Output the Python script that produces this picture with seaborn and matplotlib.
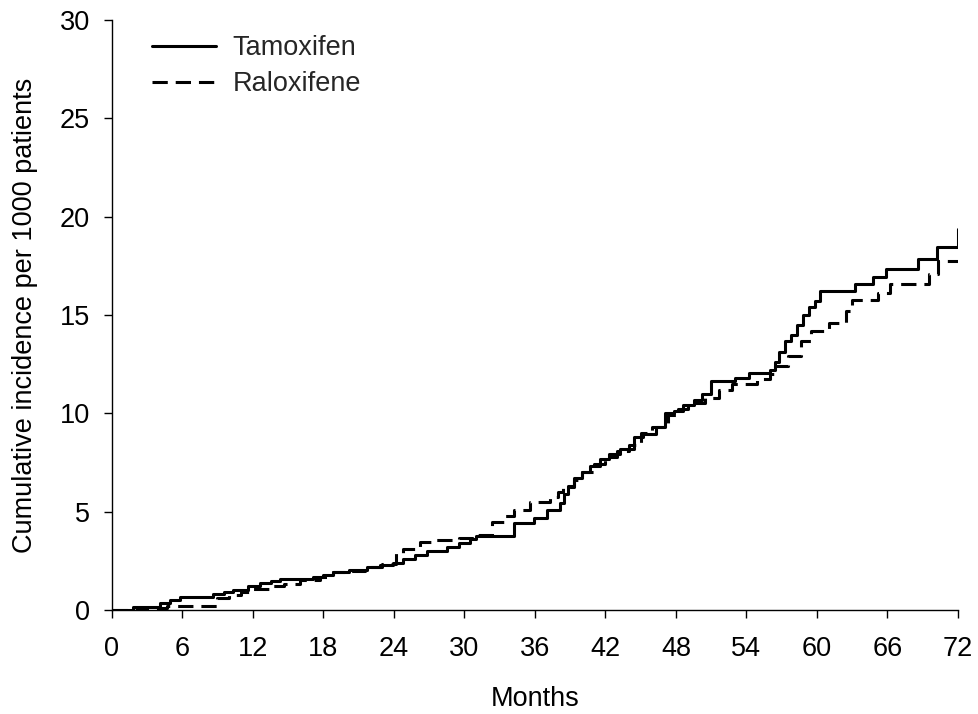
import matplotlib
matplotlib.use("Agg")
import matplotlib.pyplot as plt
import seaborn as sns
import pandas as pd

tam_months = [0, 1.8, 4.1, 4.9, 5.8, 8.6, 9.5, 10.3, 11.6, 12.6, 13.5, 14.3, 17.1, 18.0, 18.8,
              20.2, 21.7, 22.8, 23.9, 24.8, 25.8, 26.8, 28.5, 29.5, 30.5, 31.0, 34.2, 35.9, 37.0,
              38.1, 38.5, 38.8, 39.3, 40.0, 40.7, 41.5, 42.3, 43.2, 44.4, 45.2, 46.3, 47.1, 47.8,
              48.6, 49.5, 50.2, 51.0, 53.0, 54.2, 56.0, 56.4, 56.8, 57.3, 57.8, 58.3, 58.8, 59.3,
              59.8, 60.3, 63.2, 64.8, 65.9, 68.6, 70.2, 72.0]
tam_values = [0, 0.13, 0.37, 0.5, 0.66, 0.8, 0.9, 1.0, 1.2, 1.36, 1.45, 1.56, 1.7, 1.8, 1.95,
              2.05, 2.2, 2.3, 2.4, 2.6, 2.8, 3.0, 3.2, 3.4, 3.6, 3.75, 4.4, 4.66, 5.08,
              5.42, 5.9, 6.3, 6.7, 7.0, 7.3, 7.7, 7.95, 8.2, 8.8, 8.95, 9.3, 10.0, 10.1,
              10.4, 10.7, 11.0, 11.65, 11.8, 12.05, 12.2, 12.6, 13.1, 13.7, 14.0, 14.5, 15.0, 15.4,
              15.7, 16.2, 16.56, 16.95, 17.34, 17.83, 18.44, 19.35]

ral_months = [0, 2.8, 4.65, 8.9, 10.0, 11.0, 12.0, 13.7, 14.6, 16.0, 17.7, 18.8, 20.0, 21.5,
              23.0, 24.2, 24.8, 26.2, 27.6, 29.5, 30.8, 32.3, 33.4, 34.2, 35.6, 37.3, 38.0, 38.4,
              39.3, 40.0, 41.0, 42.0, 43.0, 44.0, 45.0, 46.0, 47.3, 48.2, 49.0, 50.5, 51.7, 52.8,
              54.9, 56.0, 56.4, 57.5, 58.6, 59.5, 61.0, 62.5, 63.0, 65.2, 66.2, 69.5, 70.3, 72.0]
ral_values = [0, 0.1, 0.2, 0.59, 0.76, 0.9, 1.05, 1.2, 1.3, 1.5, 1.7, 1.95, 2.0, 2.2,
              2.35, 2.88, 3.1, 3.47, 3.56, 3.65, 3.8, 4.49, 4.8, 5.08, 5.5, 5.76, 6.0, 6.27,
              6.6, 7.0, 7.4, 7.8, 8.1, 8.4, 9.0, 9.3, 9.9, 10.2, 10.5, 10.8, 11.2, 11.5,
              11.73, 12.0, 12.4, 12.9, 13.7, 14.2, 14.6, 15.2, 15.76, 16.1, 16.55, 17.1, 17.74, 17.74]

x_ticks = list(range(0, 73, 6))
y_ticks = list(range(0, 31, 5))

sns.set_theme(style="ticks")
plt.rcParams['font.family'] = ['Liberation Sans', 'DejaVu Sans']

FS = 19.5
LW = 2.2
DASH = [5.0, 2.6]

fig = plt.figure(figsize=(9.79, 7.14), dpi=100)
ax = fig.add_axes([0.1144, 0.1457, 0.8641, 0.8263])

df_t = pd.DataFrame({"Months": tam_months, "Value": tam_values})
df_r = pd.DataFrame({"Months": ral_months, "Value": ral_values})

sns.lineplot(data=df_t, x="Months", y="Value", ax=ax, color="black", linewidth=LW,
             drawstyle="steps-post", sort=False, label="Tamoxifen")
sns.lineplot(data=df_r, x="Months", y="Value", ax=ax, color="black", linewidth=LW,
             drawstyle="steps-post", sort=False, label="Raloxifene")
ax.lines[1].set_dashes(DASH)

ax.set_xlim(0, 72)
ax.set_ylim(0, 30)
ax.set_xticks(x_ticks)
ax.set_yticks(y_ticks)
ax.tick_params(axis='both', direction='out', length=6, width=1, labelsize=FS, color='black',
               labelcolor='black')
ax.tick_params(axis='x', pad=13)
ax.tick_params(axis='y', pad=10)
for s in ["top", "right"]:
    ax.spines[s].set_visible(False)
for s in ["left", "bottom"]:
    ax.spines[s].set_color("black")
    ax.spines[s].set_linewidth(1)

ax.set_xlabel("Months", fontsize=FS, color='black')
ax.set_ylabel("Cumulative incidence per 1000 patients", fontsize=FS, color='black')
ax.xaxis.set_label_coords(0.5, -0.129)
ax.yaxis.set_label_coords(-0.087, 0.5)

leg = ax.legend(loc="upper left", bbox_to_anchor=(152 / 979, 1 - 35 / 714),
                bbox_transform=fig.transFigure, frameon=False, fontsize=FS,
                borderpad=0, borderaxespad=0,
                handlelength=2.37, handletextpad=0.6, labelspacing=0.38)
for h in leg.get_lines():
    h.set_linewidth(LW)
leg.get_lines()[1].set_dashes(DASH)

fig.savefig("out.png", dpi=100, facecolor="white")
